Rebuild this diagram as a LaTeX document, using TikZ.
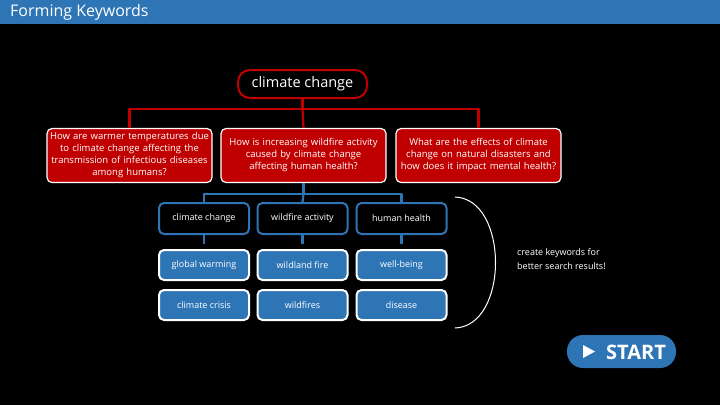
\documentclass[tikz,border=0pt]{standalone}
\usepackage{fontspec}
\setmainfont{Open Sans}
\definecolor{kwred}{HTML}{C00000}
\definecolor{kwblue}{HTML}{2E75B6}

\begin{document}
\begin{tikzpicture}[x=1pt, y=-1pt, line join=round,
    topic/.style={draw=kwred, line width=2pt, fill=black, rounded corners=12pt, text=white,
        font=\fontsize{14.5}{16}\selectfont, minimum width=129pt, minimum height=28pt, inner sep=0pt},
    qbox/.style={draw=white, line width=1.2pt, fill=kwred, rounded corners=5pt, text=white,
        font=\fontsize{9.5}{12}\selectfont, align=center, text width=161pt, inner xsep=2pt,
        inner ysep=0pt, minimum height=54pt},
    kword/.style={draw=kwblue, line width=2pt, fill=black, rounded corners=5pt, text=white,
        font=\fontsize{9}{11}\selectfont, minimum width=90pt, minimum height=31pt, inner sep=0pt},
    syn/.style={draw=white, line width=2pt, fill=kwblue, rounded corners=5pt, text=white,
        font=\fontsize{9}{11}\selectfont, minimum width=90pt, minimum height=30pt, inner sep=0pt},
    redline/.style={draw=kwred, line width=2.2pt},
    blueline/.style={draw=kwblue, line width=2.2pt}]

    % 1. background and title bar
    \fill[black] (0,0) rectangle (720,405);
    \useasboundingbox (0,0) rectangle (720,405);
    \fill[kwblue] (0,0) rectangle (720,24);
    \node[anchor=west, text=white, font=\fontsize{16}{18}\selectfont, inner sep=0pt] (title) at (10,12) {Forming Keywords};

    % 2. topic and research questions
    \node[topic] (topic) at (302.5,84) {climate change};
    \node[qbox] (q1) at (129.5,155.5) {How are warmer temperatures due\\to climate change affecting the\\transmission of infectious diseases\\among humans?};
    \node[qbox] (q2) at (303.5,155.5) {How is increasing wildfire activity\\caused by climate change\\affecting human health?};
    \node[qbox] (q3) at (478.5,155.5) {What are the effects of climate\\change on natural disasters and\\how does it impact mental health?};

    \draw[redline] (topic.south) -- ++(0,10) coordinate (rj);
    \draw[redline] (q1.north) |- (rj) -| (q3.north);
    \draw[redline] (rj) -- (q2.north);

    % 3. keywords
    \node[kword] (k1) at (204,218.5) {climate change};
    \node[kword] (k2) at (302.5,218.5) {wildfire activity};
    \node[kword] (k3) at (401.5,218.5) {human health};

    \draw[blueline] (q2.south) -- ++(0,11) coordinate (bj);
    \draw[blueline] (k1.north) |- (bj) -| (k3.north);
    \draw[blueline] (bj) -- (k2.north);

    \foreach \k in {k1,k2,k3}
        \draw[blueline] (\k.south) -- ++(0,9);

    % 4. related terms
    \node[syn] (s1) at (204,265) {global warming};
    \node[syn] (s2) at (302.5,265) {wildland fire};
    \node[syn] (s3) at (401.5,265) {well-being};
    \node[syn] (t1) at (204,305) {climate crisis};
    \node[syn] (t2) at (302.5,305) {wildfires};
    \node[syn] (t3) at (401.5,305) {disease};

    % 5. bracket and note
    \draw[white, line width=1pt] (455,197) .. controls (509,199) and (509,326) .. (455,328);
    \node[anchor=north west, align=left, text=white, font=\fontsize{9}{14}\selectfont, inner sep=0pt] (note) at (517,248) {create keywords for\\better search results!};

    % 6. start button
    \node[fill=kwblue, rounded corners=16pt, minimum width=109pt, minimum height=33pt] (start) at (621.5,351.5) {};
    \fill[white] (583,345) -- (595,351.5) -- (583,358) -- cycle;
    \node[text=white, font=\fontsize{20}{22}\selectfont\bfseries, inner sep=0pt] (go) at (636,352) {START};

\end{tikzpicture}
\end{document}
